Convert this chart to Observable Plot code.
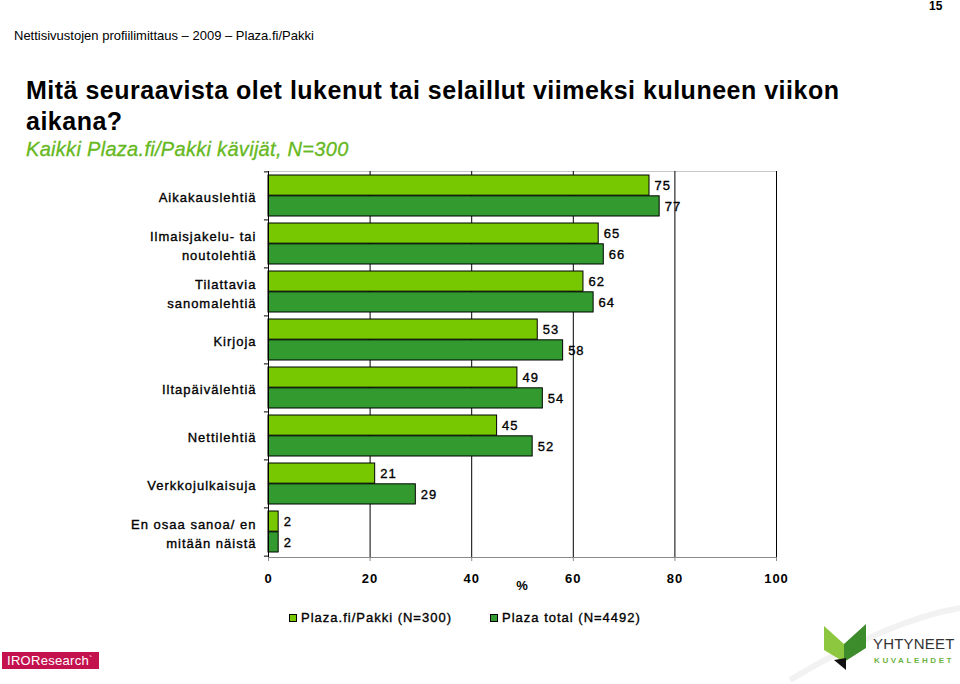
<!DOCTYPE html>
<html>
<head>
<meta charset="utf-8">
<script src="https://cdn.jsdelivr.net/npm/d3@7"></script>
<script src="https://cdn.jsdelivr.net/npm/@observablehq/plot@0.6"></script>
<style>
  html, body { margin: 0; padding: 0; background: #fff; }
  #page { position: relative; width: 960px; height: 684px; overflow: hidden; font-family: "Liberation Sans", Arial, sans-serif; color: #000; }
  .abs { position: absolute; white-space: nowrap; }
  #pagenum { left: 929px; top: -1px; font-size: 12px; font-weight: bold; line-height: 14px; }
  #header { left: 14px; top: 28px; font-size: 13px; line-height: 15px; }
  #title { left: 26px; top: 75px; font-size: 25px; font-weight: bold; line-height: 31px; letter-spacing: 0.5px; }
  #subtitle { left: 26px; top: 138px; font-size: 20px; font-style: italic; line-height: 22px; color: #66B821; letter-spacing: 0.3px; -webkit-text-stroke: 0.3px #66B821; }
  #chart { left: 0; top: 160px; }
  #chart svg text { letter-spacing: 1px; }
  #chart svg g.heavy text { stroke: #000; stroke-width: 0.35px; }
  .leg { top: 610px; font-size: 13px; line-height: 15px; letter-spacing: 1px; display: flex; align-items: center; -webkit-text-stroke: 0.35px #000; }
  .sw { width: 6px; height: 6px; border: 1px solid #000; margin-right: 4px; }
  #iro { left: 2px; top: 652px; width: 97px; height: 17px; background: #C4124F; color: #fff; font-size: 13px; line-height: 17px; letter-spacing: 0.3px; padding-left: 5px; box-sizing: border-box; }
  #yk { left: 770px; top: 600px; }
  #ykname { left: 873px; top: 635px; font-size: 15px; line-height: 17px; color: #333; letter-spacing: 0.2px; }
  #ykname2 { left: 874px; top: 656px; font-size: 8px; line-height: 9px; font-weight: bold; color: #6DB33F; letter-spacing: 2.6px; }
</style>
</head>
<body>
<div id="page">
  <div class="abs" id="pagenum">15</div>
  <div class="abs" id="header">Nettisivustojen profiilimittaus – 2009 – Plaza.fi/Pakki</div>
  <div class="abs" id="title">Mitä seuraavista olet lukenut tai selaillut viimeksi kuluneen viikon<br>aikana?</div>
  <div class="abs" id="subtitle">Kaikki Plaza.fi/Pakki kävijät, N=300</div>
  <div class="abs" id="chart"></div>
  <div class="abs leg" id="leg0"></div>
  <div class="abs leg" id="leg1"></div>
  <div class="abs" id="iro">IRO<span>Research</span><span style="font-size:10px;vertical-align:top">`</span></div>
  <svg class="abs" id="yk" width="190" height="84" viewBox="0 0 190 84">
    <path d="M20 80 Q 120 20 190 8" fill="none" stroke="#f2f2f2" stroke-width="6"/>
    <polygon points="54,26 74,44 74,62 54,50" fill="#8DC63F"/>
    <polygon points="74,44 96,24 96,48 74,62" fill="#3C8C2C"/>
    <polygon points="64,60 76,58 76,70" fill="#111"/>
  </svg>
  <div class="abs" id="ykname">YHTYNEET</div>
  <div class="abs" id="ykname2">KUVALEHDET</div>
</div>
<script>
// ---- data ----
const categories = [
  "Aikakauslehtiä",
  "Ilmaisjakelu- tai\nnoutolehtiä",
  "Tilattavia\nsanomalehtiä",
  "Kirjoja",
  "Iltapäivälehtiä",
  "Nettilehtiä",
  "Verkkojulkaisuja",
  "En osaa sanoa/ en\nmitään näistä"
];
const seriesNames = ["Plaza.fi/Pakki (N=300)", "Plaza total (N=4492)"];
const pakkiValues = [75, 65, 62, 53, 49, 45, 21, 2];
const totalValues = [77, 66, 64, 58, 54, 52, 29, 2];
const xTicks = [0, 20, 40, 60, 80, 100];
const gridValues = [20, 40, 60, 80, 100];
const colors = ["#77C800", "#339A2F"];

// ---- layout ----
const W = 960, H = 440, mL = 268, mR = 184, mT = 11, mB = 43;
const plotH = H - mT - mB;
const pad = 0.137;
const step = plotH / categories.length;
const bw = step * (1 - pad);

const rows = categories.flatMap((c, i) => [
  {cat: c, series: seriesNames[0], value: pakkiValues[i], k: 0},
  {cat: c, series: seriesNames[1], value: totalValues[i], k: 1}
]);
const first = rows.filter(d => d.k === 0);
const second = rows.filter(d => d.k === 1);

const chart = Plot.plot({
  width: W, height: H,
  marginLeft: mL, marginRight: mR, marginTop: mT, marginBottom: mB,
  style: {fontFamily: "Liberation Sans, Arial, sans-serif", fontSize: "13px", color: "#000", background: "transparent"},
  x: {domain: [0, 100]},
  y: {domain: categories, paddingInner: pad, paddingOuter: pad / 2, axis: null},
  marks: [
    Plot.frame({anchor: "top", stroke: "#c8c8c8"}),
    Plot.frame({anchor: "bottom", stroke: "#8a8a8a"}),
    Plot.ruleX(gridValues, {stroke: "#000", strokeWidth: 1}),
    Plot.barX(first, {y: "cat", x: "value", fill: colors[0], stroke: "#000", strokeWidth: 1, insetBottom: bw / 2}),
    Plot.barX(second, {y: "cat", x: "value", fill: colors[1], stroke: "#000", strokeWidth: 1, insetTop: bw / 2}),
    Plot.text(first, {y: "cat", x: "value", text: d => String(d.value), dx: 5, dy: -bw / 4, textAnchor: "start", fontSize: 13, fill: "#000", className: "heavy"}),
    Plot.text(second, {y: "cat", x: "value", text: d => String(d.value), dx: 5, dy: bw / 4, textAnchor: "start", fontSize: 13, fill: "#000", className: "heavy"}),
    Plot.ruleX([0], {stroke: "#000", strokeWidth: 1}),
    Plot.ruleY(categories, {y: d => d, x1: -0.8, x2: 0, dy: -step / 2, stroke: "#000"}),
    Plot.ruleY(categories.slice(-1), {y: d => d, x1: -0.8, x2: 0, dy: step / 2, stroke: "#000"}),
    Plot.text(categories, {y: d => d, frameAnchor: "left", dx: -12, textAnchor: "end", lineHeight: 1.46, fontSize: 13, fill: "#000", ariaLabel: "category-labels", className: "heavy"}),
    Plot.axisX({ticks: xTicks, tickSize: 4, tickPadding: 12, stroke: "#8a8a8a", fontWeight: "bold", fontSize: 13, label: "%", labelAnchor: "center", labelArrow: "none", labelOffset: 32})
  ]
});
document.getElementById("chart").appendChild(chart);

// center multi-line category labels like the original
chart.querySelectorAll('g[aria-label="category-labels"] text').forEach(t => {
  const spans = t.querySelectorAll("tspan");
  if (spans.length > 1) {
    let w = 0;
    spans.forEach(s => { w = Math.max(w, s.getComputedTextLength()); });
    t.setAttribute("text-anchor", "middle");
    spans.forEach(s => s.setAttribute("x", -w / 2));
  }
});

// legend
seriesNames.forEach((name, i) => {
  const el = document.getElementById("leg" + i);
  el.style.left = (i === 0 ? 289 : 490) + "px";
  const sw = document.createElement("div");
  sw.className = "sw";
  sw.style.background = colors[i];
  el.appendChild(sw);
  el.appendChild(document.createTextNode(name));
});
</script>
</body>
</html>
